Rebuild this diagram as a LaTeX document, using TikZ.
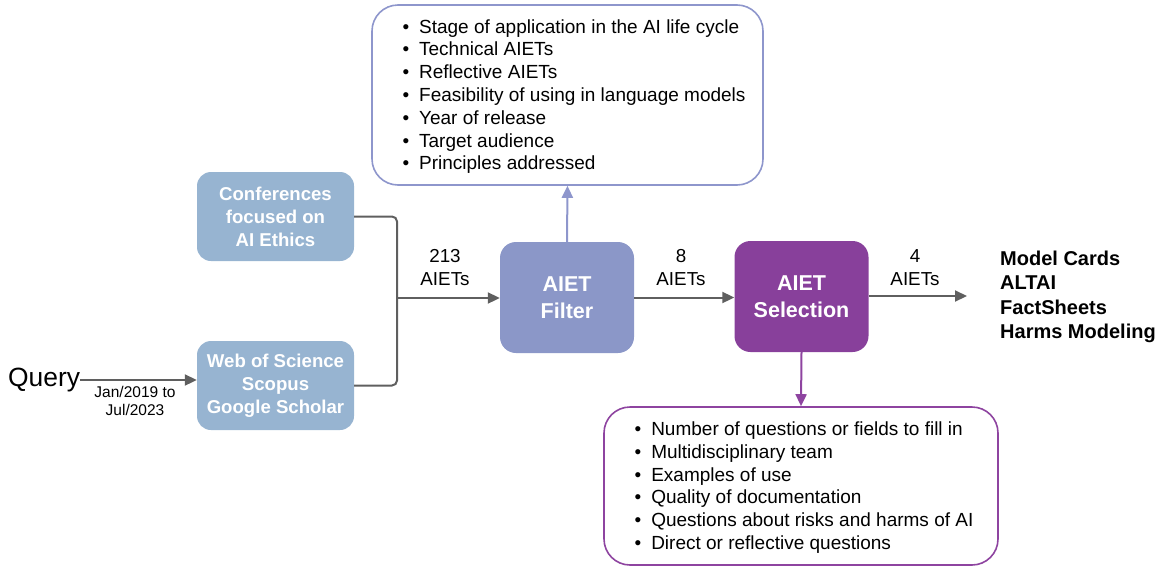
\documentclass[tikz,border=0pt]{standalone}
\usepackage{fontspec}
\setmainfont{Liberation Sans}
\usetikzlibrary{arrows.meta}

\definecolor{srcblue}{HTML}{97B4D1}
\definecolor{filtfill}{HTML}{8B97C8}
\definecolor{filtline}{HTML}{8E96CC}
\definecolor{selfill}{HTML}{88409B}
\definecolor{selline}{HTML}{8E44A0}
\definecolor{arrgray}{HTML}{5F5F5F}

\begin{document}
\begin{tikzpicture}[x=1pt,y=-1pt,
  srcbox/.style={fill=srcblue, rounded corners=14pt, minimum width=157pt, minimum height=89pt, inner sep=0pt, text=white, font=\fontsize{18.6}{23}\selectfont\bfseries, align=center},
  stagebox/.style={rounded corners=16pt, minimum width=134pt, minimum height=111pt, inner sep=0pt, text=white, font=\fontsize{21.5}{27}\selectfont\bfseries, align=center},
  listbox/.style={draw, line width=1.6pt, rounded corners=26pt, inner sep=0pt},
  listtext/.style={inner sep=0pt, font=\fontsize{19}{22.8}\selectfont},
  count/.style={font=\fontsize{18.8}{23}\selectfont, align=center},
  line/.style={draw=arrgray, line width=2pt},
  arr/.style={line, -{Triangle[length=12pt,width=11pt]}}]
\useasboundingbox (0,0) rectangle (1164,568);

% sources
\node[anchor=west, inner sep=0pt, font=\fontsize{26.4}{30}\selectfont] (query) at (8,380) {Query};
\node[font=\fontsize{15.5}{18}\selectfont, align=center] (period) at (135,401) {Jan/2019 to\\Jul/2023};
\node[srcbox] (conf) at (275.5,216.5) {Conferences\\focused on\\AI Ethics};
\node[srcbox] (web) at (275.5,385.5) {Web of Science\\Scopus\\Google Scholar};

% stages
\node[stagebox, fill=filtfill] (filter) at (567,297.5) {AIET\\Filter};
\node[stagebox, fill=selfill] (select) at (801.5,296.5) {AIET\\Selection};

% criteria boxes
\node[listbox, draw=filtline, minimum width=391pt, minimum height=180pt] (criteria) at (567.5,95) {};
\node[listtext] (critlist) at (574,97) {%
\begin{tabular}{@{}l@{\hspace{10pt}}l@{}}
\textbullet & Stage of application in the AI life cycle\\
\textbullet & Technical AIETs\\
\textbullet & Reflective AIETs\\
\textbullet & Feasibility of using in language models\\
\textbullet & Year of release\\
\textbullet & Target audience\\
\textbullet & Principles addressed
\end{tabular}};
\node[listbox, draw=selline, minimum width=394pt, minimum height=158pt] (checks) at (801,486) {};
\node[listtext] (checklist) at (804,488) {%
\begin{tabular}{@{}l@{\hspace{10pt}}l@{}}
\textbullet & Number of questions or fields to fill in\\
\textbullet & Multidisciplinary team\\
\textbullet & Examples of use\\
\textbullet & Quality of documentation\\
\textbullet & Questions about risks and harms of AI\\
\textbullet & Direct or reflective questions
\end{tabular}};

% result
\node[anchor=west, inner sep=0pt, align=left, font=\fontsize{20}{24.5}\selectfont\bfseries] (result) at (1000,297) {Model Cards\\ALTAI\\FactSheets\\Harms Modeling};

% connectors
\coordinate (merge) at (397,298);
\coordinate (outend) at (967,296);
\draw[arr] (query.east) -- (web.west |- query.east);
\draw[line, rounded corners=5pt] (conf.east) -| (merge) |- (web.east);
\draw[arr] (merge) -- (filter.west |- merge);
\draw[arr] (filter.east) -- (filter.east -| select.west);
\draw[arr] (select.east |- outend) -- (outend);
\draw[arr, draw=filtline] (filter.north) -- (criteria.south);
\draw[arr, draw=selline] (select.south) -- (checks.north);

% counts
\node[count] (n213) at (445,268) {213\\AIETs};
\node[count] (n8) at (681,268) {8\\AIETs};
\node[count] (n4) at (915,268) {4\\AIETs};
\end{tikzpicture}
\end{document}
